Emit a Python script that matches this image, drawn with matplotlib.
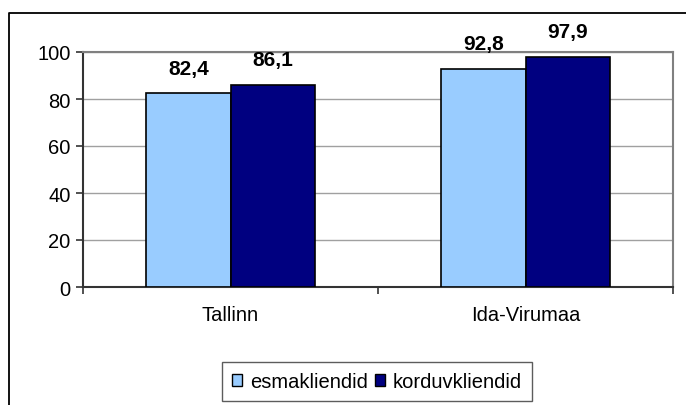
import numpy as np
import matplotlib.pyplot as plt
from matplotlib.patches import Patch
from matplotlib.lines import Line2D

plt.rcParams['font.family'] = ['Liberation Sans', 'DejaVu Sans']

## andmed
regions = ['Tallinn', 'Ida-Virumaa']
esmakliendid = [82.4, 92.8]
korduvkliendid = [86.1, 97.9]
series_names = ['esmakliendid', 'korduvkliendid']
colors = ['#99CCFF', '#000080']
yticks = [0, 20, 40, 60, 80, 100]

W, H = 686, 406
fig = plt.figure(figsize=(W / 100, H / 100), dpi=100)

# välimine raam (vasak ja ülemine serv)
fig.add_artist(Line2D([9 / W, 9 / W, 1.0], [0.0, 1 - 14 / H, 1 - 14 / H],
                      transform=fig.transFigure, color='black', lw=1.3))

ax = fig.add_axes([83 / W, 1 - 288 / H, (673 - 83) / W, (288 - 53) / H])

x = np.arange(len(regions))
w = 1 / 3.5
b1 = ax.bar(x - w / 2, esmakliendid, w, color=colors[0], edgecolor='black', linewidth=1.2, zorder=3)
b2 = ax.bar(x + w / 2, korduvkliendid, w, color=colors[1], edgecolor='black', linewidth=1.2, zorder=3)

# väärtused tulpade kohal
for bars, vals in [(b1, esmakliendid), (b2, korduvkliendid)]:
    for r, v in zip(bars, vals):
        ax.annotate(f'{v:.1f}'.replace('.', ','), xy=(r.get_x() + r.get_width() / 2, v),
                    xytext=(0, 14), textcoords='offset points', ha='center', va='baseline',
                    fontsize=15, fontweight='bold')

ax.set_xlim(-0.5, 1.5)
ax.set_ylim(0, 100)
ax.set_yticks(yticks)
ax.yaxis.grid(True, color='#a0a0a0', linewidth=1.0, zorder=0)
ax.set_axisbelow(True)

ax.set_xticks([-0.5, 0.5, 1.5])
ax.set_xticklabels([])
ax.set_xticks(x, minor=True)
ax.set_xticklabels(regions, minor=True)
ax.tick_params(axis='x', which='minor', length=0, pad=13, labelsize=14.5)
ax.tick_params(axis='x', which='major', length=5, width=1.2, direction='out', color='#333333')
ax.tick_params(axis='y', length=5, width=1.2, direction='out', pad=4, labelsize=14.5, color='#333333')

for s in ['top', 'right']:
    ax.spines[s].set_color('#808080')
    ax.spines[s].set_linewidth(1.5)
for s in ['left', 'bottom']:
    ax.spines[s].set_color('#333333')
    ax.spines[s].set_linewidth(1.5)

handles = [Patch(facecolor=c, edgecolor='black', linewidth=1.0) for c in colors]
leg = fig.legend(handles, series_names, loc='center', bbox_to_anchor=(377 / W, 1 - 382.5 / H),
                 ncol=2, fontsize=14.5, frameon=True, fancybox=False, shadow=False,
                 handlelength=0.5, handleheight=0.5, handletextpad=0.4, columnspacing=0.35,
                 borderpad=0.5, borderaxespad=0)
leg.get_frame().set_edgecolor('#333333')
leg.get_frame().set_linewidth(1.0)

fig.savefig('out.png', dpi=100)
